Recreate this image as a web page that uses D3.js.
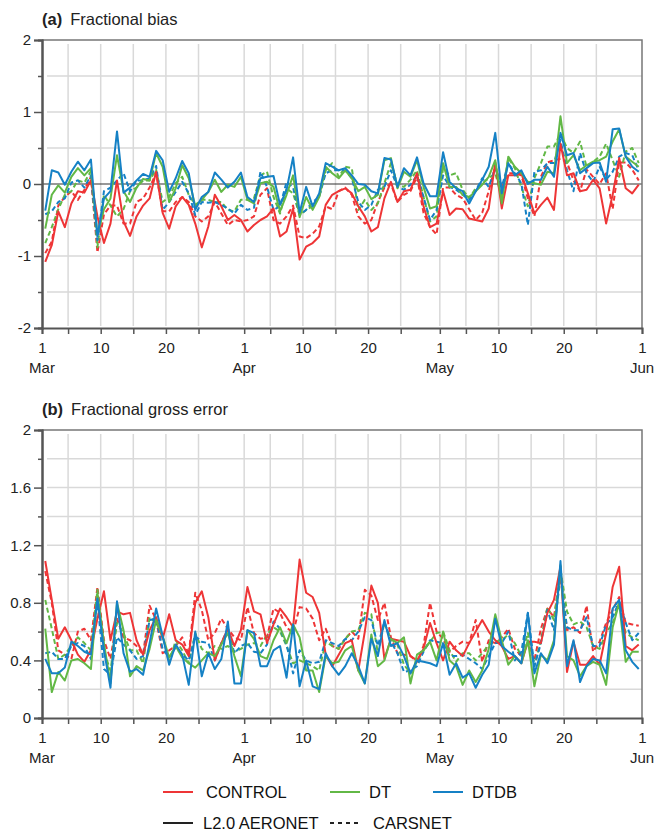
<!DOCTYPE html>
<html>
<head>
<meta charset="utf-8">
<script src="https://cdn.jsdelivr.net/npm/d3@7"></script>
<style>
  body { margin: 0; background: #fff; }
  svg { font-family: "Liberation Sans", Arial, sans-serif; }
</style>
</head>
<body>
<svg id="chart" width="656" height="831"></svg>
<script>
// daily values, 1 Mar .. 31 May
var fbControlAeronet = [-1.08,-0.85,-0.38,-0.6,-0.27,-0.1,-0.12,0.05,-0.45,-0.82,
  -0.55,0.05,-0.52,-0.72,-0.45,-0.3,-0.2,0.17,-0.4,-0.62,
  -0.31,-0.18,-0.29,-0.55,-0.88,-0.59,-0.15,-0.31,-0.5,-0.43,
  -0.5,-0.66,-0.57,-0.5,-0.45,-0.34,-0.73,-0.66,-0.34,-1.05,
  -0.87,-0.82,-0.73,-0.29,-0.15,-0.1,-0.06,-0.13,-0.31,-0.45,
  -0.66,-0.6,-0.2,0.03,-0.25,-0.1,-0.08,0.15,-0.31,-0.6,
  -0.55,-0.1,-0.43,-0.34,-0.35,-0.48,-0.5,-0.52,-0.34,0.3,
  -0.34,0.12,0.12,0.15,-0.13,-0.41,-0.29,-0.19,-0.36,0.56,
  0.12,0.15,-0.1,-0.08,0.06,-0.06,-0.55,-0.15,0.36,-0.06,
  -0.13,-0.01];
var fbControlCarsnet = [-0.96,-0.8,-0.3,-0.18,-0.1,-0.22,-0.08,0.1,-0.95,-0.42,
  -0.3,-0.3,-0.55,-0.55,-0.25,-0.2,-0.05,0.15,-0.38,-0.38,
  -0.25,-0.18,-0.25,-0.45,-0.52,-0.45,-0.25,-0.41,-0.57,-0.5,
  -0.52,-0.5,-0.45,-0.15,-0.06,-0.5,-0.55,-0.45,-0.3,-0.73,
  -0.75,-0.69,-0.59,-0.31,-0.35,-0.1,-0.05,-0.15,-0.45,-0.55,
  -0.5,-0.25,-0.05,0.0,-0.25,-0.15,-0.1,0.1,-0.4,-0.6,
  -0.7,-0.05,-0.05,-0.15,-0.2,-0.35,-0.5,-0.4,-0.1,0.25,
  -0.05,0.15,0.15,0.12,-0.2,-0.45,0.1,0.3,0.33,0.35,
  0.3,0.05,-0.1,0.2,0.1,0.0,0.15,-0.35,0.3,0.3,
  0.2,0.05];
var fbDtAeronet = [-0.62,-0.15,-0.02,-0.12,0.1,0.22,0.12,0.22,-0.7,-0.35,
  -0.2,0.4,-0.1,-0.25,-0.05,0.07,0.05,0.43,0.24,-0.25,
  -0.06,0.26,0.08,-0.31,-0.22,-0.11,0.06,-0.11,-0.01,-0.04,
  0.1,-0.22,-0.27,0.01,0.03,-0.04,-0.38,-0.15,0.12,-0.46,
  -0.18,-0.36,-0.18,0.24,0.15,0.08,0.19,0.08,-0.1,-0.04,
  -0.21,-0.15,0.33,0.36,-0.06,0.17,0.1,0.33,-0.04,-0.34,
  -0.31,0.29,-0.04,-0.04,-0.15,-0.18,-0.1,-0.01,0.1,0.33,
  -0.27,0.38,0.24,0.15,0.03,0.01,-0.01,0.17,0.15,0.94,
  0.29,0.4,0.19,0.26,0.31,0.33,0.38,0.59,0.76,0.38,
  0.31,0.24];
var fbDtCarsnet = [-0.82,-0.6,-0.35,-0.15,-0.1,0.05,0.02,0.18,-0.88,-0.15,
  -0.3,-0.45,-0.35,-0.1,-0.05,0.05,0.05,0.2,-0.25,-0.18,
  0.01,0.1,-0.15,-0.29,-0.22,-0.22,-0.25,-0.25,-0.36,-0.38,
  -0.22,-0.22,-0.2,0.12,0.17,-0.18,-0.41,-0.06,-0.13,-0.43,
  -0.36,-0.31,-0.18,0.19,0.29,0.1,0.24,0.22,-0.36,-0.22,
  -0.36,-0.27,0.01,0.29,-0.01,-0.04,0.06,0.19,-0.18,-0.52,
  -0.45,0.22,0.12,0.15,-0.08,-0.2,-0.06,0.01,0.08,0.15,
  -0.18,0.36,0.22,-0.04,-0.31,0.08,0.29,0.52,0.52,0.7,
  0.5,0.43,0.59,0.24,0.31,0.38,0.56,0.33,0.1,0.45,
  0.5,0.29];
var fbDtdbAeronet = [-0.37,0.19,0.16,-0.01,0.17,0.31,0.19,0.34,-0.73,-0.2,
  -0.1,0.73,-0.12,-0.05,0.05,0.14,0.1,0.46,0.33,-0.11,
  0.08,0.32,0.15,-0.36,-0.18,-0.11,0.16,0.06,-0.05,0.03,
  0.16,-0.18,-0.25,0.08,0.1,0.11,-0.29,-0.08,0.37,-0.4,
  -0.04,-0.31,-0.13,0.29,0.24,0.19,0.22,0.12,0.0,-0.01,
  -0.1,-0.13,0.36,0.34,-0.04,0.22,0.12,0.37,0.01,-0.17,
  -0.17,0.44,0.03,-0.06,-0.1,-0.27,-0.1,0.06,0.24,0.71,
  -0.13,0.29,0.12,0.19,0.0,0.06,0.06,0.24,0.1,0.71,
  0.4,0.43,0.15,0.22,0.29,0.3,0.03,0.76,0.77,0.38,
  0.24,0.17];
var fbDtdbCarsnet = [-0.42,-0.38,-0.25,-0.2,0.02,0.05,-0.05,0.12,-0.78,-0.1,
  -0.05,0.05,0.15,-0.1,0.05,0.05,0.08,0.25,-0.36,-0.25,
  -0.11,0.03,-0.13,-0.43,-0.25,-0.26,-0.25,-0.29,-0.34,-0.41,
  -0.29,-0.36,-0.33,0.17,-0.04,-0.36,-0.31,0.03,-0.05,-0.43,
  -0.36,-0.25,-0.18,0.15,0.19,0.19,0.19,0.08,-0.25,-0.36,
  -0.29,-0.08,-0.04,0.19,-0.04,-0.08,-0.01,0.12,-0.18,-0.5,
  -0.36,0.12,-0.04,-0.08,-0.15,-0.22,-0.1,0.08,-0.04,0.22,
  -0.04,0.29,0.15,0.01,-0.57,0.17,0.19,0.29,0.29,0.61,
  0.19,-0.1,0.43,0.15,0.03,0.24,0.06,0.17,0.38,0.43,
  0.4,0.19];

var fgeControlAeronet = [1.09,0.82,0.55,0.63,0.54,0.44,0.39,0.47,0.69,0.88,
  0.54,0.74,0.72,0.73,0.54,0.44,0.61,0.7,0.55,0.72,
  0.54,0.51,0.43,0.8,0.88,0.7,0.4,0.52,0.62,0.5,
  0.61,0.91,0.74,0.72,0.52,0.65,0.76,0.7,0.63,1.1,
  0.87,0.84,0.73,0.44,0.36,0.44,0.52,0.54,0.33,0.6,
  0.92,0.8,0.41,0.55,0.54,0.53,0.43,0.4,0.48,0.66,
  0.52,0.4,0.53,0.47,0.43,0.52,0.6,0.68,0.6,0.54,
  0.5,0.41,0.43,0.38,0.53,0.53,0.52,0.73,0.82,1.05,
  0.32,0.53,0.37,0.37,0.43,0.37,0.59,0.91,1.05,0.5,
  0.47,0.51];
var fgeControlCarsnet = [1.02,0.8,0.47,0.44,0.41,0.6,0.62,0.54,0.91,0.54,
  0.41,0.69,0.56,0.54,0.5,0.44,0.78,0.68,0.45,0.47,
  0.5,0.56,0.44,0.87,0.75,0.54,0.59,0.69,0.62,0.56,
  0.54,0.77,0.59,0.55,0.56,0.76,0.73,0.63,0.59,0.77,
  0.76,0.69,0.54,0.62,0.5,0.48,0.55,0.6,0.55,0.89,
  0.85,0.68,0.8,0.56,0.45,0.44,0.43,0.39,0.5,0.8,
  0.6,0.55,0.46,0.5,0.53,0.52,0.68,0.39,0.54,0.52,
  0.56,0.62,0.48,0.43,0.52,0.4,0.62,0.76,0.7,1.0,
  0.61,0.63,0.59,0.78,0.46,0.53,0.66,0.75,0.84,0.66,
  0.65,0.64];
var fgeDtAeronet = [0.62,0.18,0.32,0.26,0.4,0.41,0.38,0.34,0.87,0.52,
  0.24,0.8,0.61,0.29,0.36,0.33,0.48,0.68,0.57,0.42,
  0.5,0.42,0.38,0.35,0.4,0.45,0.43,0.51,0.59,0.43,
  0.29,0.61,0.55,0.43,0.41,0.54,0.63,0.52,0.65,0.56,
  0.33,0.33,0.18,0.43,0.38,0.39,0.47,0.5,0.33,0.24,
  0.58,0.36,0.4,0.55,0.52,0.56,0.24,0.44,0.47,0.53,
  0.4,0.6,0.4,0.36,0.23,0.33,0.25,0.33,0.48,0.72,
  0.54,0.37,0.43,0.38,0.54,0.22,0.44,0.4,0.54,1.06,
  0.43,0.4,0.29,0.36,0.39,0.37,0.23,0.63,0.8,0.39,
  0.46,0.46];
var fgeDtCarsnet = [0.82,0.62,0.41,0.44,0.5,0.56,0.52,0.47,0.89,0.46,
  0.33,0.66,0.59,0.47,0.47,0.38,0.7,0.66,0.57,0.38,
  0.54,0.47,0.38,0.59,0.48,0.45,0.5,0.48,0.5,0.46,
  0.48,0.51,0.52,0.5,0.58,0.63,0.6,0.5,0.38,0.4,
  0.38,0.36,0.33,0.53,0.5,0.48,0.55,0.6,0.61,0.73,
  0.72,0.45,0.66,0.55,0.51,0.37,0.31,0.39,0.47,0.53,
  0.59,0.6,0.47,0.39,0.45,0.45,0.4,0.45,0.51,0.53,
  0.54,0.58,0.52,0.43,0.59,0.36,0.54,0.77,0.68,1.03,
  0.74,0.65,0.67,0.63,0.5,0.48,0.59,0.66,0.8,0.59,
  0.56,0.54];
var fgeDtdbAeronet = [0.41,0.31,0.31,0.35,0.53,0.5,0.46,0.44,0.83,0.47,
  0.21,0.81,0.45,0.32,0.34,0.3,0.52,0.76,0.57,0.37,
  0.51,0.44,0.23,0.6,0.29,0.45,0.34,0.41,0.67,0.24,
  0.24,0.61,0.59,0.36,0.36,0.47,0.5,0.28,0.65,0.22,
  0.4,0.22,0.2,0.45,0.36,0.3,0.36,0.45,0.36,0.24,
  0.55,0.43,0.68,0.5,0.52,0.43,0.31,0.4,0.39,0.38,
  0.36,0.52,0.3,0.38,0.28,0.31,0.21,0.3,0.37,0.69,
  0.5,0.46,0.43,0.38,0.73,0.31,0.45,0.38,0.51,1.09,
  0.36,0.54,0.25,0.36,0.41,0.4,0.31,0.76,0.82,0.47,
  0.39,0.34];
var fgeDtdbCarsnet = [0.45,0.46,0.41,0.41,0.5,0.52,0.5,0.41,0.81,0.34,
  0.3,0.56,0.51,0.47,0.41,0.43,0.68,0.69,0.48,0.42,
  0.49,0.44,0.4,0.57,0.53,0.52,0.4,0.52,0.62,0.45,
  0.5,0.52,0.46,0.45,0.51,0.67,0.62,0.51,0.31,0.47,
  0.4,0.38,0.39,0.54,0.52,0.5,0.55,0.54,0.6,0.7,
  0.68,0.5,0.67,0.53,0.45,0.32,0.33,0.36,0.46,0.54,
  0.53,0.52,0.43,0.43,0.44,0.41,0.38,0.34,0.43,0.52,
  0.52,0.6,0.4,0.46,0.73,0.36,0.52,0.75,0.61,0.98,
  0.63,0.61,0.61,0.7,0.5,0.5,0.65,0.7,0.81,0.66,
  0.54,0.59];

var models = ["CONTROL", "DT", "DTDB"];
var networks = ["L2.0 AERONET", "CARSNET"];
var colors = {CONTROL: "#ee3536", DT: "#62b846", DTDB: "#1581c5"};
var tickDays = [1, 5, 10, 15, 20, 25];
var labelDays = [1, 10, 20];

var svg = d3.select("#chart");

// x scale: 1 Mar .. 1 Jun
var x = d3.scaleUtc()
    .domain([new Date(Date.UTC(2015, 2, 1)), new Date(Date.UTC(2015, 5, 1))])
    .range([42, 642]);

function dayDate(i) { return new Date(Date.UTC(2015, 2, 1 + i, 12)); }

var xTicks = [];
[2, 3, 4].forEach(function(m) {
    tickDays.forEach(function(d) { xTicks.push(new Date(Date.UTC(2015, m, d))); });
});
xTicks.push(new Date(Date.UTC(2015, 5, 1)));

function drawPanel(p) {
    var g = svg.append("g");
    var y = d3.scaleLinear().domain(p.domain).range([p.bottom, p.top]);

    // grid
    g.selectAll(".hgrid").data(p.grid).enter().append("line")
        .attr("x1", 47).attr("x2", 642)
        .attr("y1", function(d) { return y(d); }).attr("y2", function(d) { return y(d); })
        .attr("stroke", "#d9d9d9").attr("stroke-width", 1.5);
    g.selectAll(".vgrid").data(xTicks.slice(1, -1)).enter().append("line")
        .attr("x1", function(d) { return x(d); }).attr("x2", function(d) { return x(d); })
        .attr("y1", p.top + 4).attr("y2", p.bottom - 2)
        .attr("stroke", "#d9d9d9").attr("stroke-width", 1.5);

    if (p.zero) {
        g.append("line").attr("x1", 42).attr("x2", 642)
            .attr("y1", y(0)).attr("y2", y(0))
            .attr("stroke", "#333").attr("stroke-width", 1.2);
    }

    // frame top/right
    g.append("path")
        .attr("d", "M42," + p.top + "H642V" + p.bottom)
        .attr("fill", "none").attr("stroke", "#777").attr("stroke-width", 1.5);

    // series
    var line = d3.line()
        .defined(function(d) { return d != null; })
        .x(function(d, i) { return x(dayDate(i)); })
        .y(function(d) { return y(d); });

    p.series.forEach(function(s) {
        g.append("path")
            .datum(s.values)
            .attr("d", line)
            .attr("fill", "none")
            .attr("stroke", colors[s.model])
            .attr("stroke-width", 2)
            .attr("stroke-linejoin", "round")
            .attr("stroke-dasharray", s.dashed ? "5,3" : null);
    });

    // y axis
    var yMajor = d3.axisLeft(y).tickValues(p.major).tickSize(8).tickFormat(p.fmt);
    var yMinor = d3.axisLeft(y).tickValues(p.minor).tickSize(4).tickFormat("");
    var ga = g.append("g").attr("transform", "translate(42,0)").call(yMajor);
    var gm = g.append("g").attr("transform", "translate(42,0)").call(yMinor);
    [ga, gm].forEach(function(a) {
        a.select(".domain").attr("stroke", "#555").attr("stroke-width", 2);
        a.selectAll(".tick line").attr("stroke", "#555").attr("stroke-width", 1.5);
        a.selectAll("text").attr("font-size", 15).attr("fill", "#222")
            .attr("font-family", "Liberation Sans, Arial, sans-serif").attr("x", -11);
    });

    // x axis
    var xAxis = d3.axisBottom(x).tickValues(xTicks).tickSize(6)
        .tickFormat(function(d) {
            var day = d.getUTCDate();
            return labelDays.indexOf(day) >= 0 ? day : "";
        });
    var gx = g.append("g").attr("transform", "translate(0," + p.bottom + ")").call(xAxis);
    gx.select(".domain").attr("stroke", "#555").attr("stroke-width", 2);
    gx.selectAll(".tick line").attr("stroke", "#555").attr("stroke-width", 1.5);
    gx.selectAll("text").attr("font-size", 15).attr("fill", "#222")
        .attr("font-family", "Liberation Sans, Arial, sans-serif").attr("y", 14);

    // month names under day 1
    g.selectAll(".month").data(xTicks.filter(function(d) { return d.getUTCDate() === 1; }))
        .enter().append("text")
        .attr("x", function(d) { return x(d); })
        .attr("y", p.bottom + 45)
        .attr("text-anchor", "middle")
        .attr("font-size", 15).attr("fill", "#222")
        .text(d3.utcFormat("%b"));

    // title
    var t = g.append("text").attr("x", 42).attr("y", p.top - 15).attr("font-size", 16.5).attr("fill", "#222");
    t.append("tspan").attr("font-weight", "bold").text(p.letter);
    t.append("tspan").attr("dx", 8).text(p.title);
}

drawPanel({
    top: 40, bottom: 328, domain: [-2, 2], zero: true,
    major: [-2, -1, 0, 1, 2], minor: [-1.5, -0.5, 0.5, 1.5],
    grid: [-1.5, -1, -0.5, 0.5, 1, 1.5],
    fmt: function(d) { return String(d); },
    letter: "(a)", title: "Fractional bias",
    series: [
        {model: "CONTROL", dashed: true, values: fbControlCarsnet},
        {model: "DT", dashed: true, values: fbDtCarsnet},
        {model: "DTDB", dashed: true, values: fbDtdbCarsnet},
        {model: "CONTROL", dashed: false, values: fbControlAeronet},
        {model: "DT", dashed: false, values: fbDtAeronet},
        {model: "DTDB", dashed: false, values: fbDtdbAeronet}
    ]
});

drawPanel({
    top: 430, bottom: 718, domain: [0, 2], zero: false,
    major: [0, 0.4, 0.8, 1.2, 1.6, 2], minor: [0.2, 0.6, 1.0, 1.4, 1.8],
    grid: [0.2, 0.4, 0.6, 0.8, 1.0, 1.2, 1.4, 1.6, 1.8],
    fmt: function(d) { return d === 0 || d === 2 ? String(d) : d3.format(".1f")(d); },
    letter: "(b)", title: "Fractional gross error",
    series: [
        {model: "CONTROL", dashed: true, values: fgeControlCarsnet},
        {model: "DT", dashed: true, values: fgeDtCarsnet},
        {model: "DTDB", dashed: true, values: fgeDtdbCarsnet},
        {model: "CONTROL", dashed: false, values: fgeControlAeronet},
        {model: "DT", dashed: false, values: fgeDtAeronet},
        {model: "DTDB", dashed: false, values: fgeDtdbAeronet}
    ]
});

// legend
var legX = [163, 330, 433];
var lg = svg.append("g").attr("font-size", 16.5).attr("fill", "#111");
models.forEach(function(m, i) {
    lg.append("line").attr("x1", legX[i]).attr("x2", legX[i] + 30)
        .attr("y1", 792).attr("y2", 792)
        .attr("stroke", colors[m]).attr("stroke-width", 2);
    lg.append("text").attr("x", legX[i] + 44 - (i === 0 ? 1 : 5)).attr("y", 798).text(m);
});
networks.forEach(function(n, i) {
    lg.append("line").attr("x1", legX[i]).attr("x2", legX[i] + 30)
        .attr("y1", 823).attr("y2", 823)
        .attr("stroke", "#222").attr("stroke-width", 2)
        .attr("stroke-dasharray", i === 1 ? "4,4" : null);
    lg.append("text").attr("x", legX[i] + (i === 0 ? 40 : 43)).attr("y", 829).text(n);
});
</script>
</body>
</html>
